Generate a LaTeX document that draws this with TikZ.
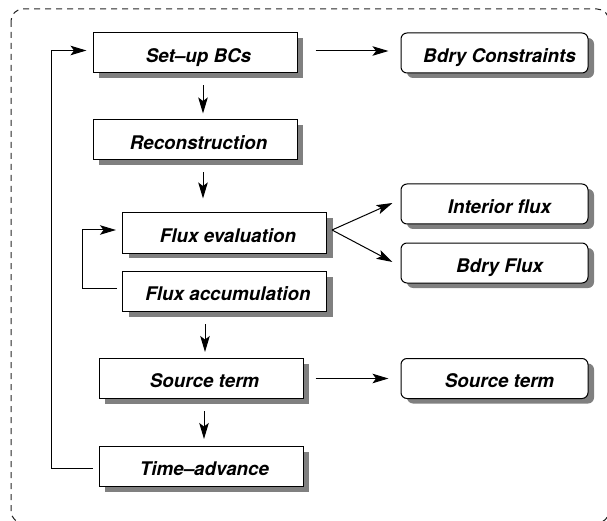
\documentclass[tikz,border=0pt]{standalone}
\usepackage{fontspec}
\setmainfont{TeX Gyre Heros}
\usetikzlibrary{arrows.meta,calc,shadows}
\begin{document}
\begin{tikzpicture}[x=1pt,y=-1pt,
  box/.style={draw=black, line width=1pt, fill=white, minimum width=204pt, minimum height=40pt, inner sep=0pt,
    text height=18.8pt, text depth=0pt,
    font=\fontsize{18.8}{21}\selectfont\bfseries\itshape,
    execute at begin node={\hspace*{7pt}},
    drop shadow={shadow xshift=6pt, shadow yshift=-5pt, fill=black!50, opacity=1}},
  rbox/.style={box, rounded corners=6pt, minimum width=187pt, execute at begin node={\hspace*{3pt}}},
  arr/.style={-{Stealth[length=16pt,width=9.5pt,inset=3.5pt]}, line width=1pt},
  frame/.style={draw=black!85, line width=1pt, dash pattern=on 6pt off 5pt, rounded corners=12pt},
]
\useasboundingbox (0,0) rectangle (607,521);
\begin{scope}
  \clip (0,0) rectangle (607,521);
  \draw[frame] (11,9) rectangle (609,523);
\end{scope}

\node[box] (setup) at (195,53) {Set--up BCs};
\node[box] (recon) at (195,140) {Reconstruction};
\node[box] (fluxeval) at (224.5,233) {Flux evaluation};
\node[box] (fluxacc) at (224.5,291.5) {Flux accumulation};
\node[box] (source) at (201,378.5) {Source term};
\node[box] (time) at (201,466.5) {Time--advance};

\node[rbox] (bdry) at (494.5,53) {Bdry Constraints};
\node[rbox] (interior) at (494.5,204) {Interior flux};
\node[rbox] (bdryflux) at (494.5,263) {Bdry Flux};
\node[rbox] (source2) at (494.5,378.5) {Source term};

% vertical flow arrows
\draw[arr] ($(setup.south)+(8,12)$) -- ($(recon.north)+(8,-6)$);
\draw[arr] ($(recon.south)+(8,12)$) -- ($(recon.south |- fluxeval.north)+(8,-14)$);
\draw[arr] ($(source.north |- fluxacc.south)+(4,12)$) -- ($(source.north)+(4,-6)$);
\draw[arr] ($(source.south)+(3,12)$) -- ($(time.north)+(3,-7)$);

% horizontal arrows
\draw[arr] ($(setup.east)+(18,-2)$) -- ($(bdry.west)+(-12,-2)$);
\draw[arr] ($(source.east)+(12,0)$) -- ($(source2.west)+(-12,0)$);
\draw[arr] ($(fluxeval.east)+(5,-3)$) -- ($(interior.west)+(-8,-1)$);
\draw[arr] ($(fluxeval.east)+(5,-3)$) -- ($(bdryflux.west)+(-8,-1)$);

% loops
\draw[arr] ($(time.west)+(-6,1.5)$) -- ($(time.west)+(-47,1.5)$) |- ($(setup.west)+(-6,-2.5)$);
\draw[arr] ($(fluxacc.west)+(-5,-3)$) -- ($(fluxacc.west)+(-40,-3)$) |- ($(fluxeval.west)+(-6,-3)$);
\end{tikzpicture}
\end{document}
